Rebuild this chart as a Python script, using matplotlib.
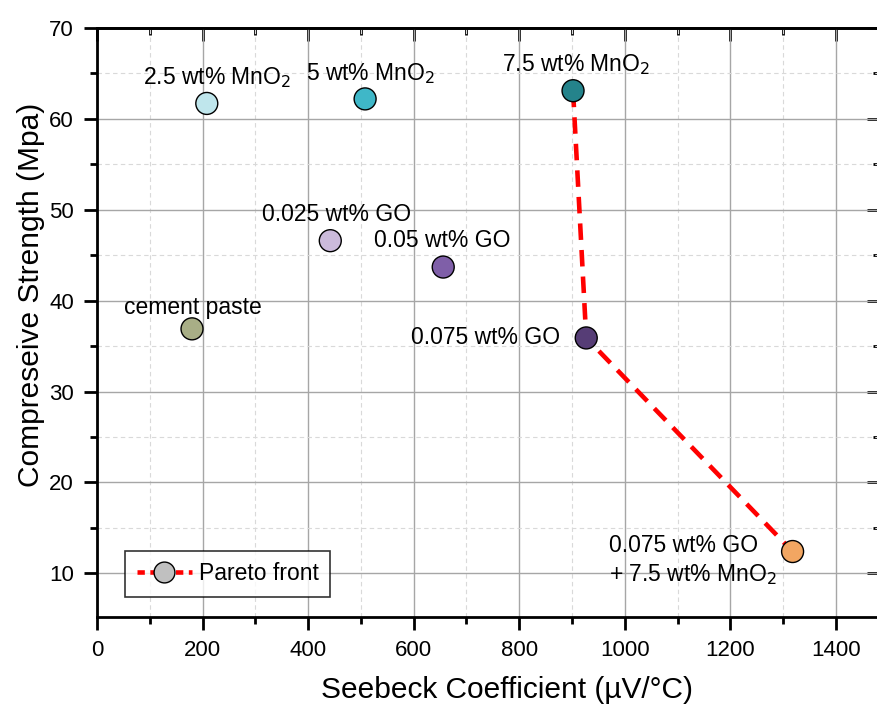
import matplotlib.pyplot as plt
from matplotlib.ticker import MultipleLocator

plt.rcParams['font.family'] = ['Liberation Sans', 'DejaVu Sans']

# samples: seebeck coefficient (uV/C) vs compressive strength (MPa)
names = ['cement paste', '2.5 wt% MnO$_2$', '5 wt% MnO$_2$', '7.5 wt% MnO$_2$',
         '0.025 wt% GO', '0.05 wt% GO', '0.075 wt% GO',
         '0.075 wt% GO\n+ 7.5 wt% MnO$_2$']
seebeck = [180, 208, 508, 902, 442, 656, 927, 1318]
strength = [36.9, 61.7, 62.2, 63.1, 46.6, 43.7, 35.9, 12.4]
colors = ['#a8ae86', '#bfe6ec', '#3fb7c8', '#24838b',
          '#cbbadb', '#7f5fa8', '#563d76', '#f2a662']

# indices on the pareto front
front = [3, 6, 7]

# label positions (data coords) and alignment
lab_x = [182, 227, 519, 908, 453, 654, 736, 971]
lab_y = [39.2, 64.6, 65.0, 66.0, 49.5, 46.6, 35.9, 11.4]
lab_ha = ['center'] * 7 + ['left']

fig = plt.figure(figsize=(8.78, 7.09), dpi=100)
ax = fig.add_axes([0.1105, 0.1298, 0.892, 0.8307])

fx = [seebeck[i] for i in front]
fy = [strength[i] for i in front]
ax.plot(fx, fy, color='red', lw=3.3, ls=(0, (3.6, 2.2)), zorder=3)

ax.scatter(seebeck, strength, s=250, c=colors, edgecolors='black',
           linewidths=1, zorder=4)

for i in range(len(names)):
    ax.text(lab_x[i], lab_y[i], names[i], fontsize=16.5, ha=lab_ha[i],
            va='center', linespacing=1.3, zorder=5)

# legend entry: dashed line through a grey marker
ax.plot([], [], color='red', lw=3.3, ls=(0, (1.6, 1.2)), marker='o', ms=15,
        mfc='#c0c0c0', mec='black', mew=1, label='Pareto front')
leg = ax.legend(loc='lower left', bbox_to_anchor=(0.036, 0.034), fontsize=16.5,
                frameon=True, fancybox=False, handlelength=2.4,
                handletextpad=0.3, borderpad=0.5, borderaxespad=0)
leg.get_frame().set_edgecolor('black')
leg.get_frame().set_linewidth(1.2)

ax.set_xlim(0, 1484)
ax.set_ylim(5.2, 70)
ax.xaxis.set_major_locator(MultipleLocator(200))
ax.xaxis.set_minor_locator(MultipleLocator(100))
ax.yaxis.set_major_locator(MultipleLocator(10))
ax.yaxis.set_minor_locator(MultipleLocator(5))

ax.grid(True, which='major', color='#a6a6a6', lw=1)
ax.grid(True, which='minor', color='#d9d9d9', lw=0.8, ls=(0, (4, 3)))
ax.set_axisbelow(True)

for s in ax.spines.values():
    s.set_linewidth(2)
ax.tick_params(which='major', direction='out', length=9.5, width=2,
               labelsize=16, pad=7)
ax.tick_params(which='minor', direction='out', length=5, width=2)

# mirrored ticks on top and right, pointing inward
top = ax.secondary_xaxis('top')
right = ax.secondary_yaxis('right')
for sec in (top, right):
    sec.spines[:].set_linewidth(2)
top.xaxis.set_major_locator(MultipleLocator(200))
top.xaxis.set_minor_locator(MultipleLocator(100))
right.yaxis.set_major_locator(MultipleLocator(10))
right.yaxis.set_minor_locator(MultipleLocator(5))
top.tick_params(which='major', direction='in', length=9.5, width=2, labeltop=False)
top.tick_params(which='minor', direction='in', length=5, width=2)
right.tick_params(which='major', direction='in', length=9.5, width=2, labelright=False)
right.tick_params(which='minor', direction='in', length=5, width=2)

ax.set_xlabel('Seebeck Coefficient (µV/°C)', fontsize=21.5)
ax.set_ylabel('Compreseive Strength (Mpa)', fontsize=21.5)
ax.xaxis.set_label_coords(0.523, -0.101)
ax.yaxis.set_label_coords(-0.067, 0.547)

plt.savefig('out.png', dpi=100)
